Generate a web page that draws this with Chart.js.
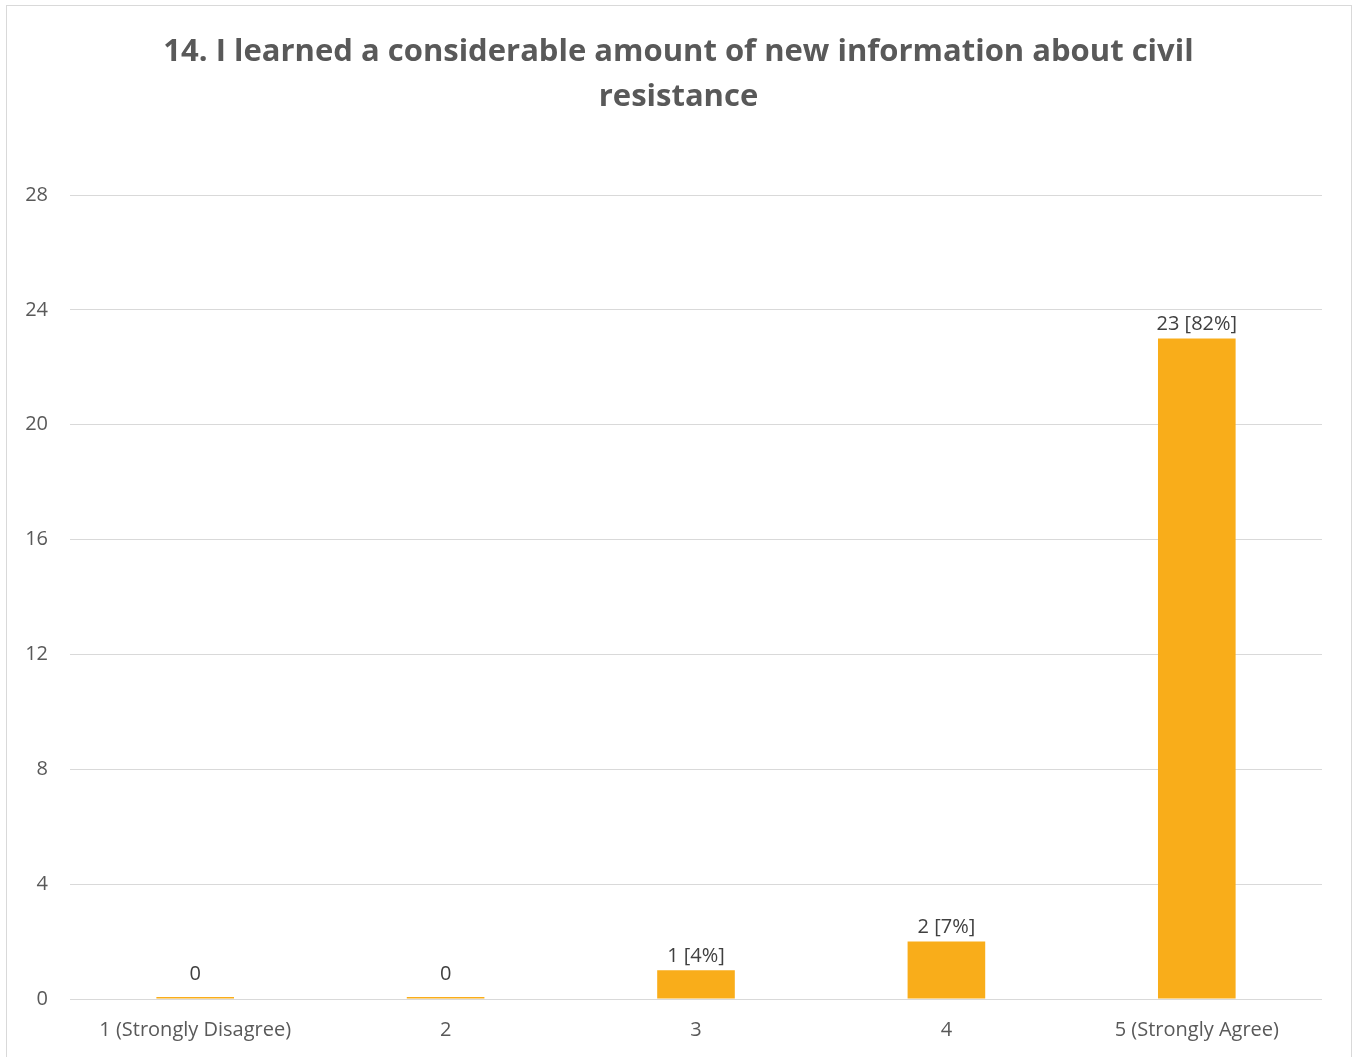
<!DOCTYPE html>
<html>
<head>
<meta charset="utf-8">
<title>14. I learned a considerable amount of new information about civil resistance</title>
<script src="https://cdn.jsdelivr.net/npm/chart.js@4/dist/chart.umd.min.js"></script>
<style>
  html, body { margin: 0; padding: 0; background: #fff; overflow: hidden; }
  #wrap { position: absolute; left: 0; top: 0; width: 1357px; height: 1057px; }
  #frame { position: absolute; left: 6px; top: 5px; width: 1344px; height: 1070px; border: 1px solid #d9d9d9; pointer-events: none; }
</style>
</head>
<body>
<div id="wrap"><canvas id="chart"></canvas></div>
<div id="frame"></div>
<script>
// ── DATA ─────────────────────────────────────────────────────
var categories = ['1 (Strongly Disagree)', '2', '3', '4', '5 (Strongly Agree)'];
var counts = [0, 0, 1, 2, 23];
var percents = [null, null, 4, 7, 82];
var yTicks = [0, 4, 8, 12, 16, 20, 24, 28];
var titleLines = ['14. I learned a considerable amount of new information about civil', 'resistance'];

// ── STYLE ────────────────────────────────────────────────────
var FONT = '"Open Sans", Lato, sans-serif';
var BAR_COLOR = '#f9ad1a';
var AXIS_TEXT = '#595959';
var LABEL_TEXT = '#404040';
var GRID = '#d9d9d9';

// ── DATA LABELS (count [pct%]) ───────────────────────────────
var barLabels = {
  id: 'barLabels',
  afterDatasetsDraw: function (chart) {
    var ctx = chart.ctx;
    var meta = chart.getDatasetMeta(0);
    ctx.save();
    ctx.font = '20px ' + FONT;
    ctx.fillStyle = LABEL_TEXT;
    ctx.textAlign = 'center';
    ctx.textBaseline = 'bottom';
    meta.data.forEach(function (bar, i) {
      var txt = String(counts[i]);
      if (percents[i] !== null) txt += ' [' + percents[i] + '%]';
      // Excel lifts the label of an empty bar a bit higher
      var lift = counts[i] === 0 ? 13 : 4;
      ctx.fillText(txt, bar.x, bar.y - lift);
    });
    ctx.restore();
  }
};

// ── CHART ────────────────────────────────────────────────────
var ctx = document.getElementById('chart');
new Chart(ctx, {
  type: 'bar',
  data: {
    labels: categories,
    datasets: [{
      data: counts,
      backgroundColor: BAR_COLOR,
      borderWidth: 0,
      minBarLength: 2,
      categoryPercentage: 1,
      barPercentage: 0.31
    }]
  },
  options: {
    responsive: true,
    maintainAspectRatio: false,
    animation: false,
    layout: { padding: { left: 0, right: 0, top: 0, bottom: 4 } },
    plugins: {
      legend: { display: false },
      tooltip: { enabled: false },
      title: {
        display: true,
        text: titleLines,
        color: AXIS_TEXT,
        font: { family: FONT, size: 31, weight: 'bold', lineHeight: '45px' },
        padding: { top: 30, bottom: 75 }
      }
    },
    scales: {
      x: {
        grid: { display: false },
        border: { display: false },
        ticks: { color: AXIS_TEXT, font: { family: FONT, size: 20 }, padding: 11, maxRotation: 0 }
      },
      y: {
        min: 0,
        max: yTicks[yTicks.length - 1],
        afterBuildTicks: function (axis) {
          axis.ticks = yTicks.map(function (v) { return { value: v }; });
        },
        afterFit: function (axis) { axis.width = 70; },
        grid: { color: GRID, lineWidth: 1, drawTicks: false },
        border: { display: false },
        ticks: { color: AXIS_TEXT, font: { family: FONT, size: 20 }, padding: 22 }
      },
      // empty right gutter so the title stays centred on the whole canvas
      gutter: {
        type: 'linear',
        position: 'right',
        min: 0,
        max: 1,
        afterFit: function (axis) { axis.width = 35; },
        grid: { display: false },
        border: { display: false },
        ticks: { display: false }
      }
    }
  },
  plugins: [barLabels]
});
</script>
</body>
</html>
